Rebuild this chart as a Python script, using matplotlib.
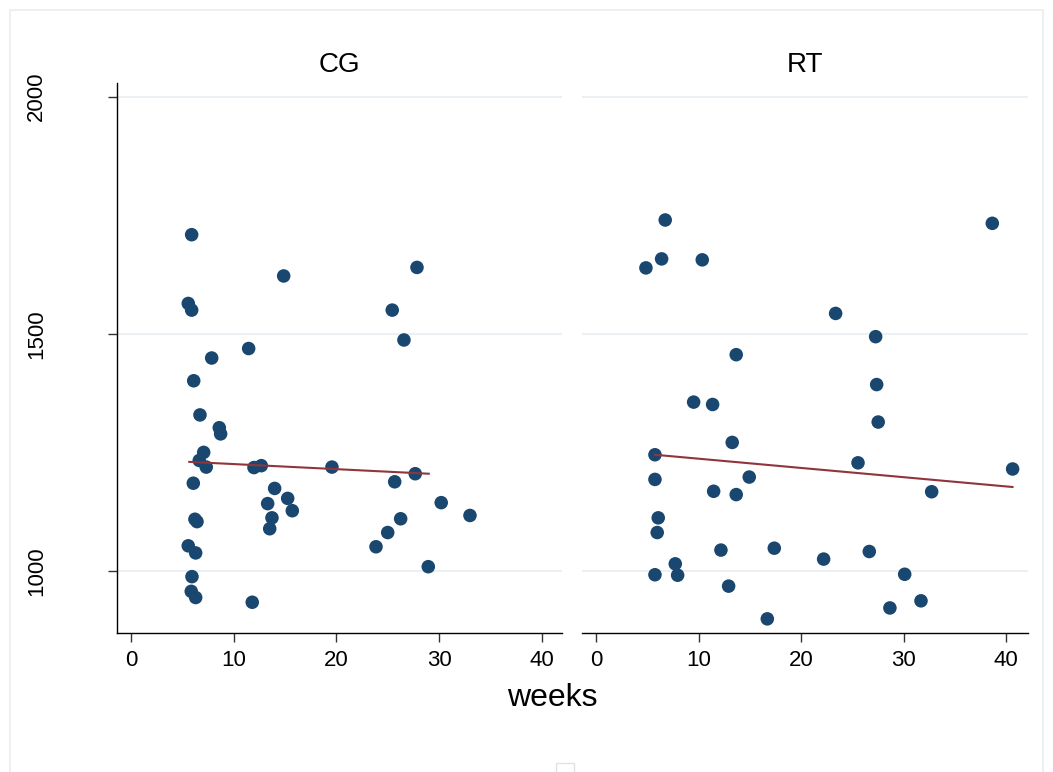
import matplotlib
matplotlib.use('Agg')
import matplotlib.pyplot as plt
from matplotlib.patches import Rectangle
import numpy as np

plt.rcParams['font.family'] = ['Liberation Sans', 'DejaVu Sans']

# CG group: weeks vs value
cg_weeks = [5.91, 14.87, 5.58, 5.91, 27.85, 25.44, 26.58, 11.46, 7.86, 6.11,
            6.72, 8.60, 8.73, 7.08, 6.65, 7.33, 11.98, 12.69, 19.57, 27.68,
            6.07, 25.68, 13.99, 15.26, 13.31, 15.71, 13.73, 26.26, 33.01, 30.21,
            6.23, 6.43, 13.51, 25.0, 23.86, 5.58, 6.30, 28.95, 5.94, 5.87,
            6.30, 11.81]
cg_vals = [1709, 1622, 1564, 1550, 1640, 1550, 1487, 1469, 1449, 1401,
           1329, 1302, 1289, 1250, 1233, 1219, 1218, 1222, 1219, 1205,
           1185, 1188, 1174, 1153, 1142, 1127, 1112, 1110, 1117, 1144,
           1109, 1104, 1089, 1081, 1051, 1053, 1038, 1009, 988, 957,
           944, 934]

# RT group
rt_weeks = [6.75, 6.40, 4.87, 10.36, 38.63, 23.36, 27.26, 13.67, 27.36, 9.52,
            11.37, 27.51, 13.28, 5.75, 25.54, 40.61, 5.75, 14.94, 11.47, 13.67,
            32.72, 6.07, 5.97, 12.18, 17.38, 22.19, 26.64, 7.73, 5.75, 7.96,
            30.09, 12.93, 31.68, 28.65, 16.70]
rt_vals = [1740, 1658, 1639, 1656, 1733, 1543, 1494, 1456, 1393, 1356,
           1351, 1314, 1271, 1245, 1228, 1215, 1193, 1198, 1168, 1161,
           1167, 1112, 1081, 1044, 1048, 1025, 1041, 1015, 992, 991,
           993, 968, 937, 922, 899]

# fitted lines (end points)
cg_fit_x = [5.68, 29.0]
cg_fit_y = [1230, 1205]
rt_fit_x = [5.75, 40.6]
rt_fit_y = [1245, 1177]

yticks = [1000, 1500, 2000]
xticks = [0, 10, 20, 30, 40]

W, H = 1053, 772
fig = plt.figure(figsize=(W / 100, H / 100), dpi=100)

dot = '#1a476f'
fitc = '#90353b'
gridc = '#eaf0f3'

panels = [
    ('CG', cg_weeks, cg_vals, cg_fit_x, cg_fit_y, 117.3, 562, -1.33, 41.97),
    ('RT', rt_weeks, rt_vals, rt_fit_x, rt_fit_y, 581.7, 1027.7, -1.39, 42.08),
]
bottom_px, top_px = 632.7, 82.7

for i, (name, xs, ys, fx, fy, lpx, rpx, x0, x1) in enumerate(panels):
    ax = fig.add_axes([lpx / W, 1 - bottom_px / H, (rpx - lpx) / W, (bottom_px - top_px) / H])
    for v in yticks:
        ax.axhline(v, color=gridc, lw=1.5, zorder=0)
    ax.scatter(xs, ys, s=95, color=dot, edgecolors='none', zorder=3)
    ax.plot(fx, fy, color=fitc, lw=1.5, zorder=4)
    ax.set_xlim(x0, x1)
    ax.set_ylim(869.8, 2029.5)
    ax.set_xticks(xticks)
    ax.tick_params(axis='x', direction='out', length=6.5, width=1, color='#333333',
                   labelsize=16, pad=6)
    ax.set_title(name, fontsize=20, pad=8)
    for s in ['top', 'right']:
        ax.spines[s].set_visible(False)
    ax.spines['bottom'].set_linewidth(1)
    if i == 0:
        ax.set_yticks(yticks)
        ax.tick_params(axis='y', direction='out', length=6.5, width=1, color='#333333',
                       labelsize=16, pad=44)
        for lab in ax.get_yticklabels():
            lab.set_rotation(90)
            lab.set_va('center')
        ax.spines['left'].set_linewidth(1)
    else:
        ax.set_yticks([])
        ax.spines['left'].set_visible(False)

fig.text(552 / W, 1 - 698 / H, 'weeks', ha='center', va='center', fontsize=23)

# outer frame and clipped legend box
fig.patches.append(Rectangle((10 / W, -0.05), 1033 / W, 1.05 - 10 / H, transform=fig.transFigure,
                             fill=False, edgecolor='#e8eef2', lw=1.2))
fig.patches.append(Rectangle((556 / W, -0.01), 18 / W, 0.01 + 9 / H, transform=fig.transFigure,
                             fill=False, edgecolor='#dde4e8', lw=1))

plt.savefig('out.png', dpi=100, facecolor='white')
